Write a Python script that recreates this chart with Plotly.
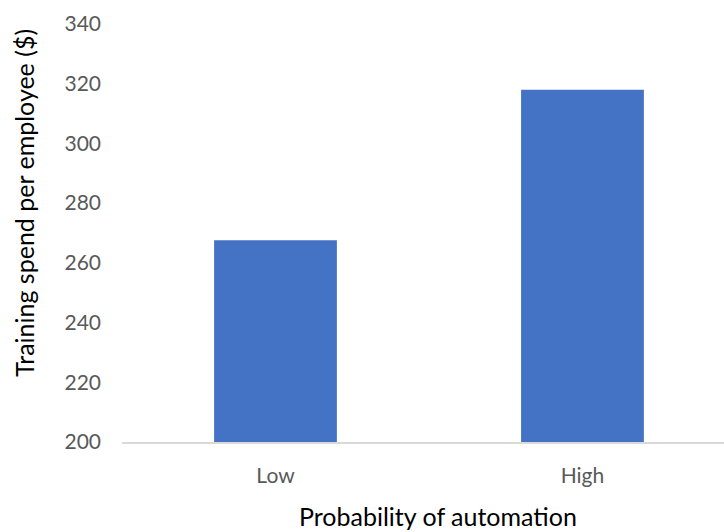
import plotly.graph_objects as go

categories = ["Low", "High"]
spend = [267.6, 318.0]
y_ticks = [200, 220, 240, 260, 280, 300, 320, 340]

FONT = "Lato, Calibri, Carlito, sans-serif"
TICK_FONT = dict(family=FONT, size=21, color="#595959")
TITLE_FONT = dict(family=FONT, size=25, color="#000000")

fig = go.Figure(
    go.Bar(
        x=categories,
        y=spend,
        marker=dict(color="#4472C4", line=dict(width=0)),
        width=0.4,
    )
)

fig.update_layout(
    width=724,
    height=532,
    margin=dict(l=122, r=0, t=24, b=90),
    plot_bgcolor="white",
    paper_bgcolor="white",
    showlegend=False,
    font=dict(family=FONT, size=21, color="#595959"),
    xaxis=dict(
        range=[-0.5, 1.461],
        showgrid=False,
        showline=True,
        linecolor="#D9D9D9",
        linewidth=1.5,
        ticks="",
        ticklabelstandoff=14,
        tickfont=TICK_FONT,
    ),
    yaxis=dict(
        range=[200, 340],
        tickvals=y_ticks,
        showgrid=False,
        zeroline=False,
        showline=False,
        ticks="",
        ticklabelstandoff=20,
        tickfont=TICK_FONT,
    ),
    annotations=[
        dict(
            text="Probability of automation",
            xref="paper",
            yref="paper",
            x=0.525,
            y=-0.176,
            xanchor="center",
            yanchor="middle",
            showarrow=False,
            font=TITLE_FONT,
        ),
        dict(
            text="Training spend per employee ($)",
            xref="paper",
            yref="paper",
            x=-0.163,
            y=0.572,
            xanchor="center",
            yanchor="middle",
            textangle=-90,
            showarrow=False,
            font=TITLE_FONT,
        ),
    ],
)

fig.write_html("out.html")
